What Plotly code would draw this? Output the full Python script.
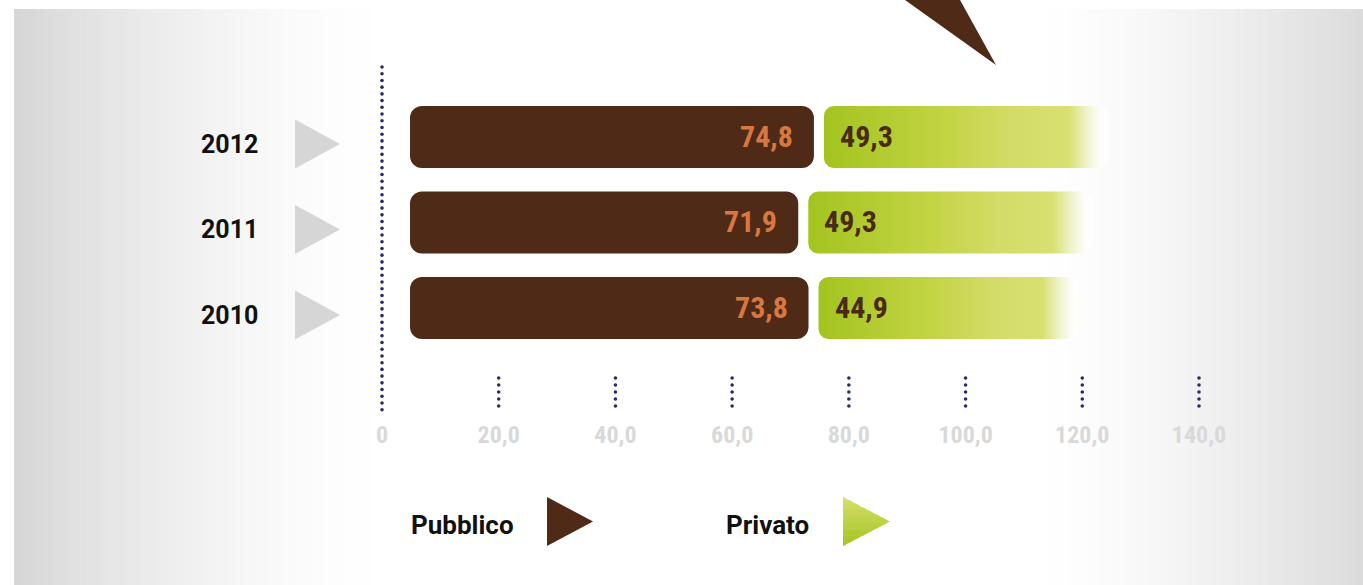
import math
import plotly.graph_objects as go

# ---------------- data ----------------
YEARS = [2010, 2011, 2012]
PUBBLICO = [73.8, 71.9, 74.8]
PRIVATO = [44.9, 49.3, 49.3]
TICKS = [0, 20, 40, 60, 80, 100, 120, 140]
TICK_TEXT = ["0", "20,0", "40,0", "60,0", "80,0", "100,0", "120,0", "140,0"]
SERIES = ["Pubblico", "Privato"]

# ---------------- style ----------------
W, H = 1363, 585
BROWN = "#4e2a17"
ORANGE = "#d8783f"
DARK_TXT = "#4a2a14"
NAVY = "#2b2a6b"
GRAY_TRI = "#d6d6d6"
NARROW = "Roboto Condensed, Liberation Sans Narrow, DejaVu Sans Condensed, sans-serif"
BOLDF = "Roboto, DejaVu Sans, sans-serif"
GREEN_SCALE = [[0, "#a3c41f"], [0.44, "#c4d445"], [0.67, "#d3dc68"],
               [0.86, "#d8e070"], [0.93, "#f1f4d2"], [0.97, "#fdfdf8"], [1, "#ffffff"]]
FADE_TAIL_PX = 18

# pixel layout helpers (axis calibration)
AX0_PX, AX140_PX = 382, 1199
ax_k = (AX140_PX - AX0_PX) / 140.0
x_range = [-AX0_PX / ax_k, (W - AX0_PX) / ax_k]
BAR0_PX, bar_k = 410, 5.4
x2_range = [-BAR0_PX / bar_k, (W - BAR0_PX) / bar_k]
PLOT_BOTTOM = 418
y_k = 85.5           # px per year step
Y2010_PX = 308
y_range = [YEARS[0] - (PLOT_BOTTOM - Y2010_PX) / y_k, YEARS[0] + Y2010_PX / y_k]
y_domain = [1 - PLOT_BOTTOM / H, 1]
BAR_W = 62 / y_k
GAP = 10 / bar_k


def py_to_y(py):
    return YEARS[0] + (Y2010_PX - py) / y_k


def pxp(px):
    return px / W


def pyp(py):
    return 1 - py / H


def fmt(v):
    return f"{v:.1f}".replace(".", ",")


fig = go.Figure()

# ---- dotted axis line and dotted tick marks (on main x axis) ----
ax_y = [py_to_y(67 + i * 6.72) for i in range(52)]
fig.add_trace(go.Scatter(x=[TICKS[0]] * len(ax_y), y=ax_y, mode="markers",
                         marker=dict(size=3.6, color=NAVY), hoverinfo="skip",
                         showlegend=False, xaxis="x", yaxis="y"))
tx, ty = [], []
for t in TICKS[1:]:
    for j in range(5):
        tx.append(t)
        ty.append(py_to_y(378 + 7 * j))
fig.add_trace(go.Scatter(x=tx, y=ty, mode="markers",
                         marker=dict(size=3.6, color=NAVY), hoverinfo="skip",
                         showlegend=False, xaxis="x", yaxis="y"))

# ---- Pubblico bars (drawn from the end back to 0 so the rounded end sits at the left) ----
fig.add_trace(go.Bar(y=YEARS, x=[-v for v in PUBBLICO], base=PUBBLICO, orientation="h",
                     width=BAR_W, name=SERIES[0],
                     marker=dict(color=BROWN, cornerradius=12, line=dict(width=0)),
                     hoverinfo="skip", showlegend=False, xaxis="x2", yaxis="y"))


# ---- Privato bars with horizontal gradient fading to white ----
def rounded_rect(x0, x1, yc, h, r_px):
    rx, ry = r_px / bar_k, r_px / y_k
    yb, yt = yc - h / 2, yc + h / 2
    xs, ys = [], []

    def arc(cx, cy, a0, a1, n=8):
        for i in range(n + 1):
            a = math.radians(a0 + (a1 - a0) * i / n)
            xs.append(cx + rx * math.cos(a))
            ys.append(cy + ry * math.sin(a))
    arc(x0 + rx, yb + ry, 270, 180)
    arc(x0 + rx, yt - ry, 180, 90)
    arc(x1 - rx, yt - ry, 90, 0)
    arc(x1 - rx, yb + ry, 0, -90)
    xs.append(xs[0]); ys.append(ys[0])
    return xs, ys


for yr, pub, pri in zip(YEARS, PUBBLICO, PRIVATO):
    x0 = pub + GAP
    xs, ys = rounded_rect(x0, x0 + pri + FADE_TAIL_PX / bar_k, yr, BAR_W, 10)
    fig.add_trace(go.Scatter(x=xs, y=ys, mode="lines", fill="toself",
                             fillgradient=dict(type="horizontal", colorscale=GREEN_SCALE),
                             line=dict(width=0, color="rgba(0,0,0,0)"), name=SERIES[1],
                             hoverinfo="skip", showlegend=False, xaxis="x2", yaxis="y"))

annotations = []
shapes = []

# value labels, year labels, gray markers
for yr, pub, pri in zip(YEARS, PUBBLICO, PRIVATO):
    annotations.append(dict(x=pub, y=yr, xref="x2", yref="y", text=fmt(pub), showarrow=False,
                            xanchor="right", yanchor="middle", xshift=-19, yshift=1,
                            font=dict(family=NARROW, size=30, color=ORANGE, weight="bold")))
    annotations.append(dict(x=pub + GAP, y=yr, xref="x2", yref="y", text=fmt(pri), showarrow=False,
                            xanchor="left", yanchor="middle", xshift=14, yshift=1,
                            font=dict(family=NARROW, size=30, color=DARK_TXT, weight="bold")))
    annotations.append(dict(x=pxp(260), y=yr, xref="paper", yref="y", text=str(yr), showarrow=False,
                            xanchor="right", yanchor="middle", yshift=-7,
                            font=dict(family=BOLDF, size=25, color="#111111", weight="bold")))
    yc = yr - 7 / y_k
    hh = 24.5 / y_k
    shapes.append(dict(type="path", xref="paper", yref="y", layer="above",
                       path=f"M {pxp(295)},{yc - hh} L {pxp(340)},{yc} L {pxp(295)},{yc + hh} Z",
                       fillcolor=GRAY_TRI, line=dict(width=0)))

# background panel gradients
n = 70
for i in range(n):
    xa = 14 + (400 - 14) * i / n
    xb = 14 + (400 - 14) * (i + 1) / n
    t = (i + 0.5) / n
    g = int(round(255 - 41 * (1 - t) ** 1.7))
    shapes.append(dict(type="rect", xref="paper", yref="paper", layer="below",
                       x0=pxp(xa), x1=pxp(xb) + 0.0005, y0=pyp(585), y1=pyp(9),
                       fillcolor=f"rgb({g},{g},{g})", line=dict(width=0)))
for i in range(n):
    xa = 1030 + (1363 - 1030) * i / n
    xb = 1030 + (1363 - 1030) * (i + 1) / n
    t = (i + 0.5) / n
    g = int(round(255 - 36 * t ** 1.5))
    shapes.append(dict(type="rect", xref="paper", yref="paper", layer="below",
                       x0=pxp(xa), x1=pxp(xb) + 0.0005, y0=pyp(585), y1=pyp(9),
                       fillcolor=f"rgb({g},{g},{g})", line=dict(width=0)))

# top pointer triangle
shapes.append(dict(type="path", xref="paper", yref="paper", layer="above",
                   path=f"M {pxp(891)},{pyp(-10)} L {pxp(954.5)},{pyp(-10)} L {pxp(996)},{pyp(65)} Z",
                   fillcolor=BROWN, line=dict(width=0)))

# legend
annotations.append(dict(x=pxp(409), y=pyp(525), xref="paper", yref="paper", text=SERIES[0],
                        showarrow=False, xanchor="left", yanchor="middle",
                        font=dict(family=BOLDF, size=26, color="#111111", weight="bold")))
annotations.append(dict(x=pxp(724), y=pyp(525), xref="paper", yref="paper", text=SERIES[1],
                        showarrow=False, xanchor="left", yanchor="middle",
                        font=dict(family=BOLDF, size=26, color="#111111", weight="bold")))
shapes.append(dict(type="path", xref="paper", yref="paper", layer="above",
                   path=f"M {pxp(547)},{pyp(497)} L {pxp(593)},{pyp(521.5)} L {pxp(547)},{pyp(546)} Z",
                   fillcolor=BROWN, line=dict(width=0)))
# green legend triangle with vertical gradient (bands)
top, mid, bot, lx, tw = 497.0, 521.5, 546.0, 843.0, 47.0


def xr(py):
    return lx + tw * (1 - abs(py - mid) / (mid - top))


nb = 14
edges = [top + (mid - top) * i / (nb // 2) for i in range(nb // 2)] + \
        [mid + (bot - mid) * i / (nb // 2) for i in range(nb // 2 + 1)]
c0, c1 = (0xd8, 0xe1, 0x6d), (0xa3, 0xc4, 0x1f)
for i in range(len(edges) - 1):
    ya, yb = edges[i], edges[i + 1]
    f = (i + 0.5) / (len(edges) - 1)
    col = "rgb(%d,%d,%d)" % tuple(int(c0[k] + (c1[k] - c0[k]) * f) for k in range(3))
    shapes.append(dict(type="path", xref="paper", yref="paper", layer="above",
                       path=(f"M {pxp(lx)},{pyp(ya - 0.3)} L {pxp(xr(ya))},{pyp(ya - 0.3)} "
                             f"L {pxp(xr(yb))},{pyp(yb + 0.3)} L {pxp(lx)},{pyp(yb + 0.3)} Z"),
                       fillcolor=col, line=dict(width=0)))

fig.update_layout(
    width=W, height=H,
    margin=dict(l=0, r=0, t=0, b=0),
    paper_bgcolor="#ffffff", plot_bgcolor="rgba(0,0,0,0)",
    showlegend=False, barmode="overlay",
    xaxis=dict(range=x_range, domain=[0, 1], tickvals=TICKS, ticktext=TICK_TEXT,
               showgrid=False, zeroline=False, showline=False, ticks="",
               tickfont=dict(family=NARROW, size=24, color="#d9d9d9", weight="bold"),
               fixedrange=True),
    xaxis2=dict(range=x2_range, overlaying="x", visible=False, fixedrange=True),
    yaxis=dict(range=y_range, domain=y_domain, visible=False, fixedrange=True),
    annotations=annotations, shapes=shapes,
)

fig.write_html("out.html", config={"displayModeBar": False},
               post_script="document.body.style.margin='0px';")
